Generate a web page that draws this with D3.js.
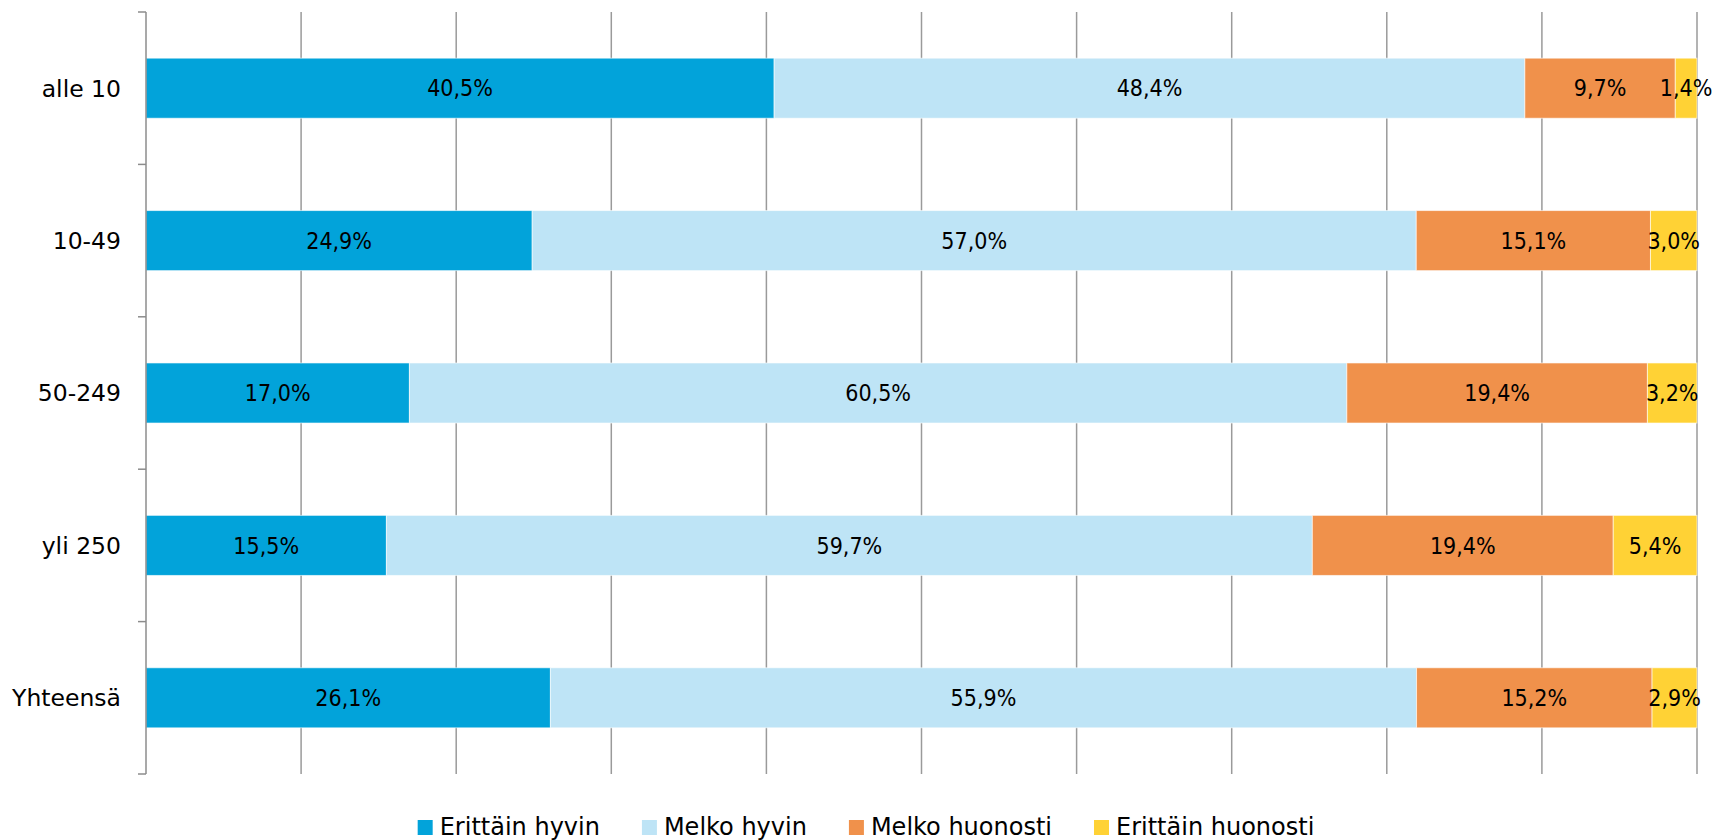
<!DOCTYPE html>
<html>
<head>
<meta charset="utf-8">
<script src="https://d3js.org/d3.v7.min.js"></script>
<style>
  body { margin: 0; background: #fff; }
  svg { font-family: "DejaVu Sans", sans-serif; }
  .grid line { stroke: #9a9a9a; stroke-width: 1.5px; }
  .cat-label { font-size: 23.5px; fill: #000; }
  .val-label { font-family: "DejaVu Sans Condensed", "DejaVu Sans", sans-serif; font-size: 23px; fill: #000; }
  .legend text { font-size: 24px; fill: #000; }
</style>
</head>
<body>
<div id="chart"></div>
<script>
// categories (top to bottom)
var categories = ["alle 10", "10-49", "50-249", "yli 250", "Yhteensä"];
var seriesNames = ["Erittäin hyvin", "Melko hyvin", "Melko huonosti", "Erittäin huonosti"];
var seriesColors = ["#02a3da", "#bee4f6", "#f0914b", "#ffd235"];

// percentage values per series, same order as categories
var erittainHyvin   = [40.5, 24.9, 17.0, 15.5, 26.1];
var melkoHyvin      = [48.4, 57.0, 60.5, 59.7, 55.9];
var melkoHuonosti   = [9.7, 15.1, 19.4, 19.4, 15.2];
var erittainHuonosti = [1.4, 3.0, 3.2, 5.4, 2.9];

var seriesValues = [erittainHyvin, melkoHyvin, melkoHuonosti, erittainHuonosti];
var gridTicks = d3.range(0, 1.0001, 0.1);

var width = 1716;
var height = 840;
var plot = {left: 146, right: 1697, top: 12, bottom: 774};

/* Build rows for the 100% stack */
var rows = categories.map(function(c, i) {
  var r = {cat: c};
  seriesNames.forEach(function(s, j) { r[s] = seriesValues[j][i]; });
  return r;
});

var stacked = d3.stack()
  .keys(seriesNames)
  .offset(d3.stackOffsetExpand)(rows);

/* Scales */
var xScale = d3.scaleLinear()
  .domain([0, 1])
  .range([plot.left, plot.right]);

var yScale = d3.scaleBand()
  .domain(categories)
  .range([plot.top, plot.bottom])
  .paddingInner(0.606)
  .paddingOuter(0.303);

var color = d3.scaleOrdinal().domain(seriesNames).range(seriesColors);

var svg = d3.select("#chart").append("svg")
  .attr("width", width)
  .attr("height", height);

/* Gridlines */
svg.append("g")
  .attr("class", "grid")
  .selectAll("line")
  .data(gridTicks.slice(1))
  .enter().append("line")
  .attr("x1", d => xScale(d))
  .attr("x2", d => xScale(d))
  .attr("y1", plot.top)
  .attr("y2", plot.bottom);

/* Bars */
var layers = svg.append("g").selectAll("g.layer")
  .data(stacked).enter()
  .append("g")
  .attr("class", "layer")
  .attr("fill", d => color(d.key));

layers.selectAll("rect")
  .data(d => d)
  .enter().append("rect")
  .attr("x", d => xScale(d[0]))
  .attr("width", d => xScale(d[1]) - xScale(d[0]))
  .attr("y", d => yScale(d.data.cat))
  .attr("height", yScale.bandwidth())
  .attr("stroke", "#ffffff")
  .attr("stroke-opacity", 0.6)
  .attr("stroke-width", 1);

/* Value labels */
layers.selectAll("text")
  .data(function(d) { return d.map(function(p) { p.key = d.key; return p; }); })
  .enter().append("text")
  .attr("class", "val-label")
  .attr("x", d => (xScale(d[0]) + xScale(d[1])) / 2)
  .attr("y", d => yScale(d.data.cat) + yScale.bandwidth() / 2)
  .attr("dy", "0.36em")
  .attr("text-anchor", "middle")
  .text(d => d3.format(".1f")(d.data[d.key]).replace(".", ",") + "%");

/* Category axis: line with ticks between categories */
var axisG = svg.append("g").attr("class", "yaxis");
var step = yScale.step();
var tickYs = d3.range(categories.length + 1).map(i => plot.top + i * step);

axisG.append("line")
  .attr("x1", plot.left).attr("x2", plot.left)
  .attr("y1", plot.top).attr("y2", plot.bottom)
  .attr("stroke", "#8c8c8c").attr("stroke-width", 1.5);

axisG.selectAll("line.tick")
  .data(tickYs).enter()
  .append("line")
  .attr("class", "tick")
  .attr("x1", plot.left - 8).attr("x2", plot.left)
  .attr("y1", d => d).attr("y2", d => d)
  .attr("stroke", "#8c8c8c").attr("stroke-width", 1.5);

axisG.selectAll("text")
  .data(categories).enter()
  .append("text")
  .attr("class", "cat-label")
  .attr("x", plot.left - 25)
  .attr("y", d => yScale(d) + yScale.bandwidth() / 2)
  .attr("dy", "0.36em")
  .attr("text-anchor", "end")
  .text(d => d);

/* Legend, centered */
var legend = svg.append("g").attr("class", "legend");
var items = legend.selectAll("g")
  .data(seriesNames).enter()
  .append("g");

items.append("rect")
  .attr("width", 15).attr("height", 15)
  .attr("y", 820)
  .attr("fill", d => color(d));

items.append("text")
  .attr("x", 22)
  .attr("y", 835)
  .text(d => d);

var gap = 42;
var offset = 0;
items.each(function() {
  var w = 22 + d3.select(this).select("text").node().getComputedTextLength();
  d3.select(this).attr("transform", "translate(" + offset + ",0)");
  offset += w + gap;
});
var total = offset - gap;
legend.attr("transform", "translate(" + (866 - total / 2) + ",0)");
</script>
</body>
</html>
